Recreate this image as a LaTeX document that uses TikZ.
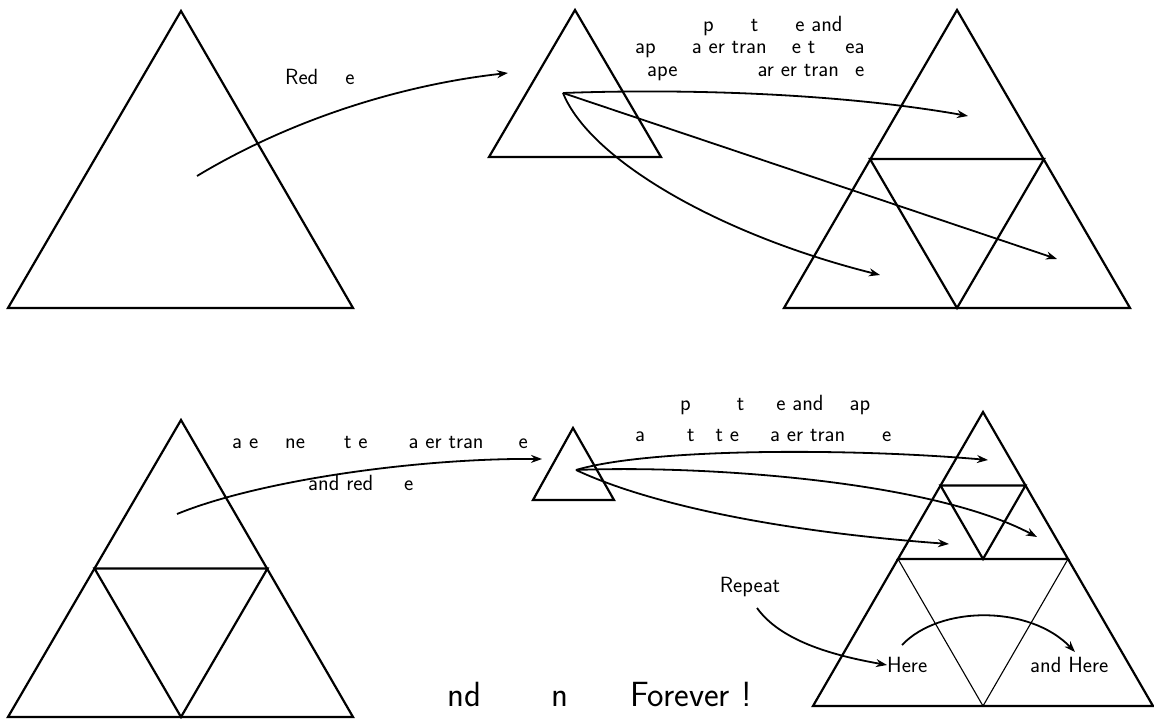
\documentclass[tikz,border=0pt]{standalone}
\usepackage{tikz}
\usetikzlibrary{arrows.meta}

\tikzset{
  tri/.style={line width=2.2pt,line join=miter},
  thintri/.style={line width=1.1pt},
  flow/.style={-{Stealth[length=11pt,width=8pt]},line width=1.8pt},
  note/.style={font=\sffamily\fontsize{22}{24}\selectfont,inner sep=0pt,anchor=west},
  bignote/.style={font=\sffamily\fontsize{35}{37}\selectfont,inner sep=0pt,anchor=west},
}

\begin{document}
\begin{tikzpicture}[x=1pt,y=-1pt]
\useasboundingbox (0,0) rectangle (1154,719);

% first row
\draw[tri] (8,308) -- (181,11) -- (353,308) -- cycle;
\draw[tri] (489,157) -- (575,10) -- (661,157) -- cycle;
\draw[tri] (784,308) -- (957,10) -- (1130,308) -- cycle;
\draw[tri] (870,159) -- (1044,159) -- (957,308) -- cycle;

\coordinate (big1) at (197,176);
\coordinate (small1) at (508,73);
\coordinate (pick1) at (563,93);
\coordinate (topc) at (968,116);
\coordinate (rightc) at (1057,259);
\coordinate (leftc) at (880,275);

\draw[flow] (big1) .. controls (290,120) and (400,85) .. (small1);
\node[note] (reduce) at (285,77) {Red\hspace{27pt}e};

\draw[flow] (pick1) .. controls (700,88) and (850,95) .. (topc);
\draw[flow] (pick1) -- (rightc);
\draw[flow] (pick1) .. controls (590,160) and (720,235) .. (leftc);

\node[note] (copy1) at (703,26) {p\hspace{37pt}t\hspace{37pt}e and};
\node[note] (copy2) at (635,50) {ap\hspace{36pt}a er tran\hspace{25pt}e t\hspace{30pt}ea};
\node[note] (copy3) at (647,73) {ape\hspace{80pt}ar er tran\hspace{16pt}e};

% second row
\draw[tri] (8,717) -- (181,420) -- (353,717) -- cycle;
\draw[tri] (94.5,568.5) -- (267.5,568.5) -- (181,717) -- cycle;
\draw[tri] (533,500) -- (573,428) -- (614,500) -- cycle;

\draw[tri] (898,559) -- (983,412) -- (1068,559) -- cycle;
\draw[tri] (940.5,485.5) -- (1025.5,485.5) -- (983,559) -- cycle;
\draw[tri] (898,559) -- (813,706) -- (1153,706) -- (1068,559);
\draw[thintri] (898,559) -- (983,706) -- (1068,559);

\coordinate (big2) at (177,514);
\coordinate (small2) at (542,459);
\coordinate (pick2) at (576,470);
\coordinate (topc2) at (988,460);
\coordinate (rightc2) at (1037,537);
\coordinate (leftc2) at (949,544);

\draw[flow] (big2) .. controls (260,480) and (420,458) .. (small2);
\node[note] (shrink1) at (232,443) {a e\hspace{27pt}ne\hspace{39pt}t e\hspace{41pt}a er tran\hspace{35pt}e};
\node[note] (shrink2) at (308,483) {and red\hspace{31pt}e};

\draw[flow] (pick2) .. controls (650,448) and (850,448) .. (topc2);
\draw[flow] (pick2) .. controls (700,465) and (930,480) .. (rightc2);
\draw[flow] (pick2) .. controls (640,500) and (760,530) .. (leftc2);

\node[note] (again1) at (680,405) {p\hspace{46pt}t\hspace{32pt}e and\hspace{26pt}ap};
\node[note] (again2) at (635,436) {a\hspace{42pt}t\hspace{21pt}t e\hspace{31pt}a er tran\hspace{37pt}e};

\node[note,anchor=center] (repeat) at (750,587) {Repeat};
\node[note] (here1) at (887,665) {Here};
\node[note] (here2) at (1030,665) {and Here};
\coordinate (rep) at (757,608);
\coordinate (arch) at (902,645);
\coordinate (archend) at (1075,652);
\draw[flow] (rep) .. controls (780,640) and (830,655) .. (here1.west);
\draw[flow] (arch) .. controls (940,605) and (1030,605) .. (archend);

\node[bignote] (forever) at (447,694) {nd\hspace{70pt}n\hspace{62pt}Forever !};
\end{tikzpicture}
\end{document}
